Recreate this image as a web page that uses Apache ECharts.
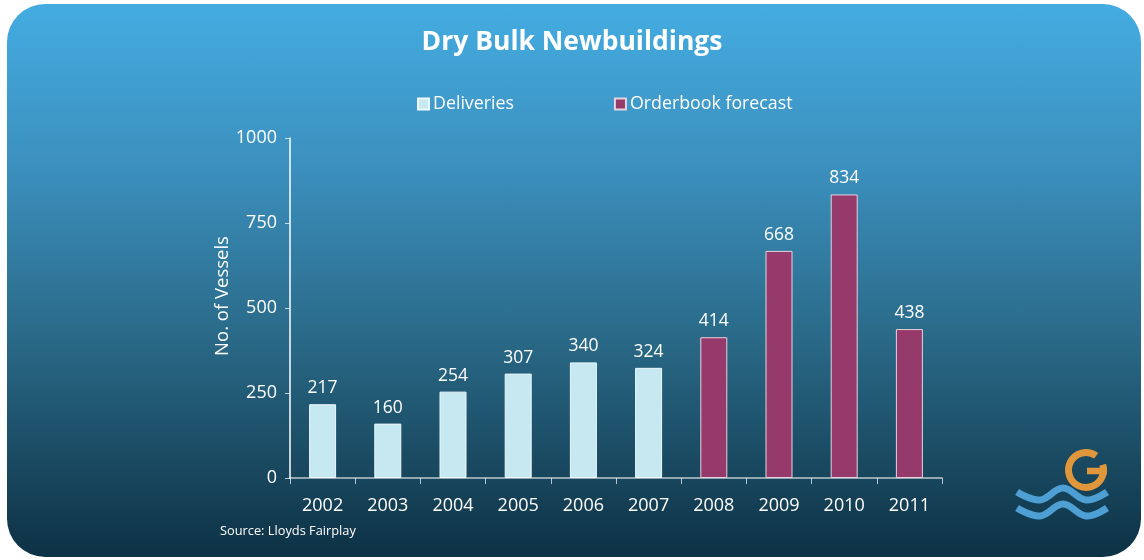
<!DOCTYPE html>
<html>
	<head>
		<meta charset="utf-8">
		<title>Dry Bulk Newbuildings</title>
		<script src="https://cdn.jsdelivr.net/npm/echarts@6/dist/echarts.min.js"></script>
		<style type="text/css">
			html, body {
				margin: 0;
				padding: 0;
				background: #ffffff;
			}
			/* 圆角渐变面板 */
			#panel {
				position: absolute;
				left: 7px;
				top: 4px;
				width: 1134px;
				height: 553px;
				border-radius: 38px;
				background: linear-gradient(to bottom, #44ace1 0%, #3b8fbd 30%, #2a6a88 60%, #0d3144 100%);
			}
			#main {
				position: absolute;
				left: 0;
				top: 0;
				width: 1144px;
				height: 560px;
			}
		</style>
	</head>
	<body>
		<div id="panel"></div>
		<div id="main"></div>
	</body>
</html>

<script type="text/javascript">
	// 数据
	var years = ['2002', '2003', '2004', '2005', '2006', '2007', '2008', '2009', '2010', '2011'];
	var deliveries = [217, 160, 254, 307, 340, 324, '-', '-', '-', '-'];
	var orderbook = ['-', '-', '-', '-', '-', '-', 414, 668, 834, 438];
	var yTicks = [0, 250, 500, 750, 1000];

	var font = '"Open Sans", "Noto Sans", sans-serif';
	var myChart = echarts.init(document.getElementById('main'));

	var labelStyle = {
		show: true,
		position: 'top',
		distance: 7,
		color: '#ffffff',
		fontSize: 17.5,
		fontFamily: font
	};

	var option = {
		backgroundColor: 'transparent',
		animation: false,
		title: {
			text: 'Dry Bulk Newbuildings',
			left: 'center',
			top: 24,
			textStyle: {
				color: '#ffffff',
				fontSize: 26.5,
				fontWeight: 'bold',
				fontFamily: font
			}
		},
		legend: {
			left: 412,
			top: 90,
			itemWidth: 11,
			itemHeight: 11,
			itemGap: 100,
			icon: 'rect',
			textStyle: {
				color: '#ffffff',
				fontSize: 17.8,
				fontFamily: font,
				padding: [0, 0, 0, -1]
			},
			data: ['Deliveries', 'Orderbook forecast']
		},
		grid: {
			left: 290,
			right: 202,
			top: 138,
			bottom: 82
		},
		xAxis: {
			type: 'category',
			data: years,
			axisLine: { lineStyle: { color: 'rgba(255,255,255,0.7)', width: 1.5 } },
			axisTick: { show: true, length: 6, lineStyle: { color: 'rgba(255,255,255,0.7)' } },
			axisLabel: {
				color: '#ffffff',
				fontSize: 18,
				fontFamily: font,
				margin: 19
			}
		},
		yAxis: {
			type: 'value',
			min: yTicks[0],
			max: yTicks[yTicks.length - 1],
			interval: 250,
			name: 'No. of Vessels',
			nameLocation: 'middle',
			nameGap: 58,
			nameMoveOverlap: false,
			nameTextStyle: {
				color: '#ffffff',
				fontSize: 18.5,
				fontFamily: font,
				padding: [0, 0, 0, 24]
			},
			axisLine: { show: true, lineStyle: { color: '#ffffff', width: 1.5 } },
			axisTick: { show: true, length: 5, lineStyle: { color: 'rgba(255,255,255,0.7)' } },
			splitLine: { show: false },
			axisLabel: {
				color: '#ffffff',
				fontSize: 18,
				fontFamily: font,
				margin: 13,
				formatter: function (v) { return String(v); }
			}
		},
		series: [
			{
				name: 'Deliveries',
				type: 'bar',
				data: deliveries,
				barWidth: 27,
				barGap: '-100%',
				itemStyle: { color: '#c5e8f1', borderColor: '#eef8fb', borderWidth: 1 },
				label: labelStyle
			},
			{
				name: 'Orderbook forecast',
				type: 'bar',
				data: orderbook,
				barWidth: 27,
				barGap: '-100%',
				itemStyle: { color: '#963a6b', borderColor: '#e6d3de', borderWidth: 1 },
				label: labelStyle
			}
		],
		graphic: [
			{
				type: 'text',
				left: 220,
				top: 525,
				style: {
					text: 'Source: Lloyds Fairplay',
					fill: '#ffffff',
					font: '12.8px ' + font
				}
			},
			// 右下角标志
			{
				type: 'arc',
				shape: { cx: 1086, cy: 470, r: 17.5, startAngle: -0.3, endAngle: 2 * Math.PI - 0.95 },
				style: { stroke: '#e0963a', lineWidth: 7, fill: null }
			},
			{
				type: 'line',
				shape: { x1: 1087, y1: 471, x2: 1107, y2: 471 },
				style: { stroke: '#e0963a', lineWidth: 6.5 }
			},
			{
				type: 'polyline',
				shape: { points: [[1017, 492], [1040, 500], [1063, 488], [1086, 500], [1107, 492]], smooth: 0.4 },
				style: { stroke: '#4e9fd4', lineWidth: 7, fill: null }
			},
			{
				type: 'polyline',
				shape: { points: [[1017, 508], [1040, 516], [1063, 504], [1086, 516], [1107, 508]], smooth: 0.4 },
				style: { stroke: '#4e9fd4', lineWidth: 7, fill: null }
			}
		]
	};

	myChart.setOption(option);
</script>
